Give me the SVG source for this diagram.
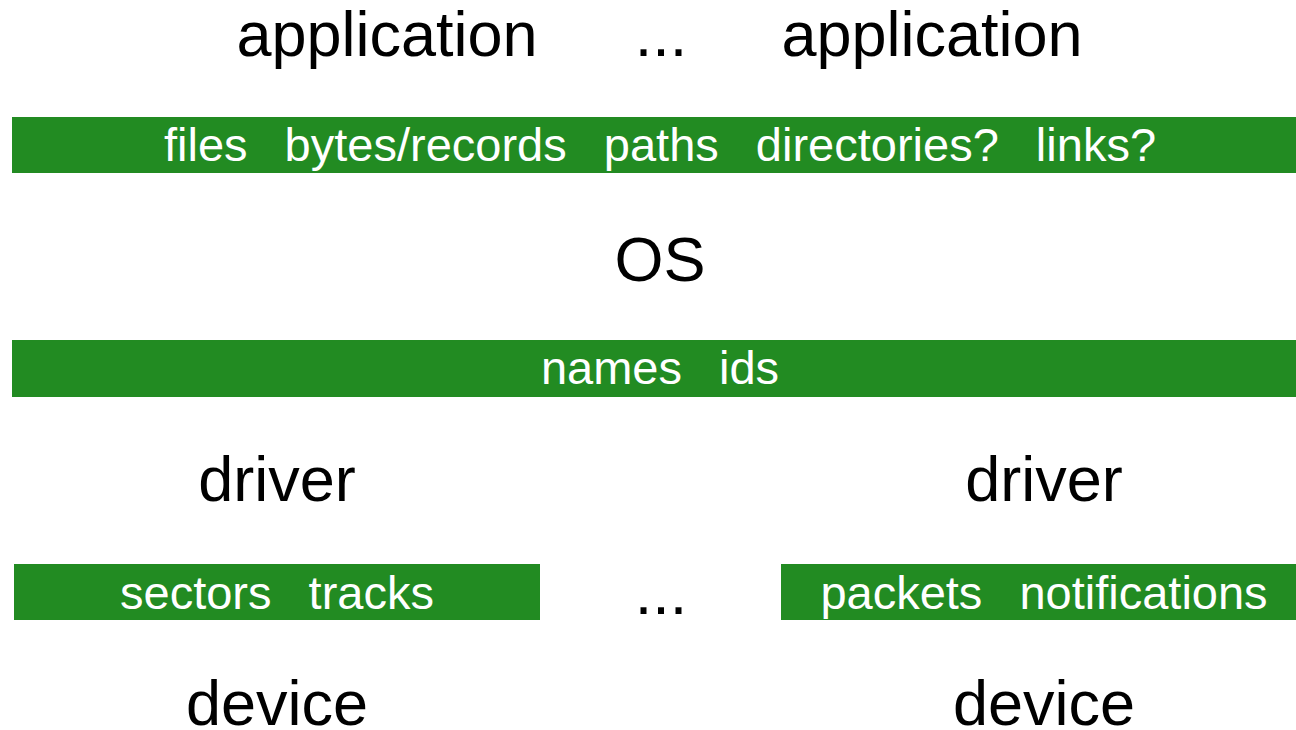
<svg xmlns="http://www.w3.org/2000/svg" width="1296" height="730" viewBox="0 0 1296 730">
<style>
.big{font-family:"Liberation Sans",Arial,sans-serif;font-size:63px;fill:#000;text-anchor:middle}
.bar{fill:#228B22}
.lbl{font-family:"Liberation Sans",Arial,sans-serif;font-size:47px;fill:#fff;text-anchor:middle;white-space:pre;word-spacing:-0.7px}
</style>
<rect width="1296" height="730" fill="#fff"/>
<g id="app1"><text class="big" x="387" y="56">application</text></g>
<g id="dots1"><text class="big" x="661" y="56">...</text></g>
<g id="app2"><text class="big" x="932" y="56">application</text></g>
<g id="bar-files"><rect class="bar" x="12" y="117" width="1284" height="56"/><text class="lbl" x="660" y="161" xml:space="preserve">files   bytes/records   paths   directories?   links?</text></g>
<g id="os"><text class="big" x="660" y="281">OS</text></g>
<g id="bar-names"><rect class="bar" x="12" y="340" width="1284" height="57"/><text class="lbl" x="660" y="384" xml:space="preserve">names   ids</text></g>
<g id="driver1"><text class="big" x="277" y="501">driver</text></g>
<g id="driver2"><text class="big" x="1044" y="501">driver</text></g>
<g id="bar-sectors"><rect class="bar" x="14" y="564" width="526" height="56"/><text class="lbl" x="277" y="609" xml:space="preserve">sectors   tracks</text></g>
<g id="dots2"><text class="big" x="661" y="614">...</text></g>
<g id="bar-packets"><rect class="bar" x="781" y="564" width="515" height="56"/><text class="lbl" x="1044" y="609" xml:space="preserve">packets   notifications</text></g>
<g id="device1"><text class="big" x="277" y="725">device</text></g>
<g id="device2"><text class="big" x="1044" y="725">device</text></g>
<g id="connectors"></g>
</svg>
